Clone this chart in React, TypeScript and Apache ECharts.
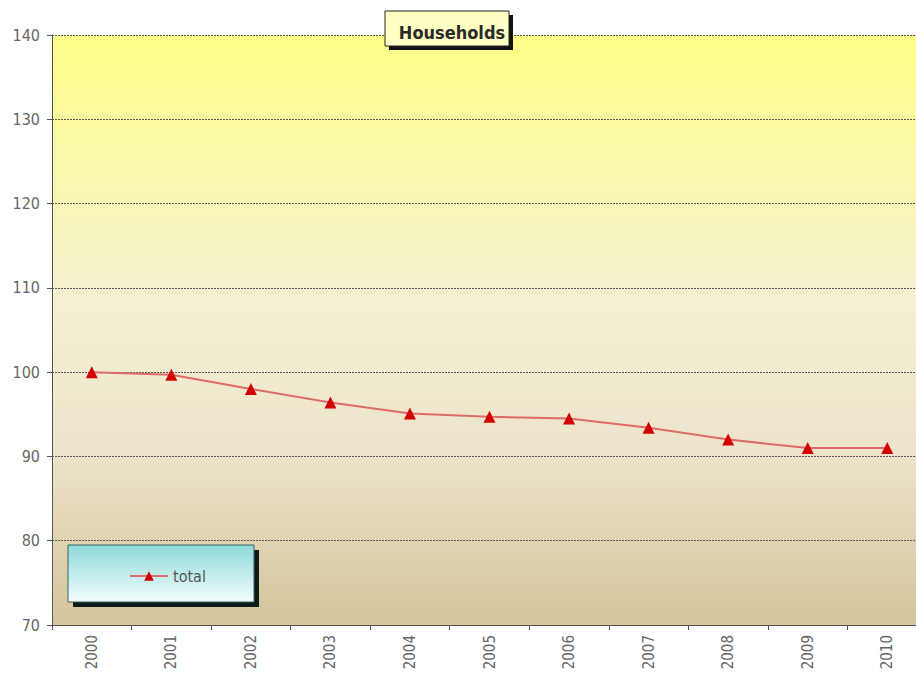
import React, { useEffect, useRef } from "react";
import * as echarts from "echarts";

const years = ["2000", "2001", "2002", "2003", "2004", "2005", "2006", "2007", "2008", "2009", "2010"];
const totalValues = [100, 99.7, 98, 96.4, 95.1, 94.7, 94.5, 93.4, 92, 91, 91];
const seriesName = "total";
const titleText = "Households";
const yMin = 70;
const yMax = 140;
const yStep = 10;

const FONT = "'Liberation Sans Narrow', 'DejaVu Sans Condensed', 'Liberation Sans', sans-serif";

export default function App() {
  const ref = useRef<HTMLDivElement>(null);
  useEffect(() => {
    if (!ref.current) return;
    const chart = echarts.init(ref.current, null, { renderer: "svg" });
    chart.setOption({
      animation: false,
      backgroundColor: "#ffffff",
      grid: {
        left: 52,
        top: 35,
        right: 0,
        bottom: 60,
        show: true,
        borderWidth: 0,
        backgroundColor: new echarts.graphic.LinearGradient(0, 0, 0, 1, [
          { offset: 0, color: "#FFFF88" },
          { offset: 0.45, color: "#F4F1D2" },
          { offset: 0.7, color: "#EDE4CB" },
          { offset: 1, color: "#D5C49C" },
        ]),
      },
      title: {
        text: titleText,
        left: 447,
        top: 18,
        textAlign: "center",
        textStyle: { fontFamily: FONT, fontSize: 18, fontWeight: "bold", color: "#2a2a2a" },
        z: 20,
      },
      legend: {
        data: [seriesName],
        left: 124,
        top: 563,
        itemWidth: 38,
        itemHeight: 12,
        itemGap: 4,
        textStyle: { fontFamily: FONT, fontSize: 16, color: "#555" },
        z: 20,
      },
      graphic: [
        { type: "rect", shape: { x: 389, y: 15, width: 124, height: 35 }, style: { fill: "#111" }, z: 10 },
        { type: "rect", shape: { x: 385, y: 11, width: 124, height: 35 }, style: { fill: "#FFFFC4", stroke: "#222", lineWidth: 1 }, z: 11 },
        { type: "rect", shape: { x: 73, y: 550, width: 186, height: 57 }, style: { fill: "#0D1A1A" }, z: 10 },
        {
          type: "rect",
          shape: { x: 68, y: 545, width: 186, height: 57 },
          style: {
            fill: new echarts.graphic.LinearGradient(0, 0, 0, 1, [
              { offset: 0, color: "#8ED9D8" },
              { offset: 1, color: "#F2FDFD" },
            ]),
            stroke: "#3A6060",
            lineWidth: 1,
          },
          z: 11,
        },
      ],
      xAxis: {
        type: "category",
        data: years,
        boundaryGap: true,
        axisLine: { lineStyle: { color: "#555", width: 1 } },
        axisTick: { show: true, length: 5, lineStyle: { color: "#555" } },
        axisLabel: {
          rotate: 90,
          margin: 10,
          color: "#666",
          fontFamily: FONT,
          fontSize: 15,
        },
        splitLine: { show: false },
      },
      yAxis: {
        type: "value",
        min: yMin,
        max: yMax,
        interval: yStep,
        axisLine: { show: true, lineStyle: { color: "#555", width: 1 } },
        axisTick: { show: true, length: 5, lineStyle: { color: "#555" } },
        axisLabel: { color: "#666", fontFamily: FONT, fontSize: 16, margin: 12 },
        splitLine: { show: true, lineStyle: { color: "#555", type: [2, 1], width: 1.2 } },
      },
      series: [
        {
          name: seriesName,
          type: "line",
          data: totalValues,
          symbol: "triangle",
          symbolSize: 12,
          itemStyle: { color: "#D40000" },
          lineStyle: { color: "#E06A6A", width: 2 },
          z: 5,
        },
      ],
    });
    return () => chart.dispose();
  }, []);
  return (
    <div style={{ position: "absolute", left: 0, top: 0, width: 916, height: 685, overflow: "hidden" }}>
      <div ref={ref} style={{ width: 927, height: 685 }} />
    </div>
  );
}
